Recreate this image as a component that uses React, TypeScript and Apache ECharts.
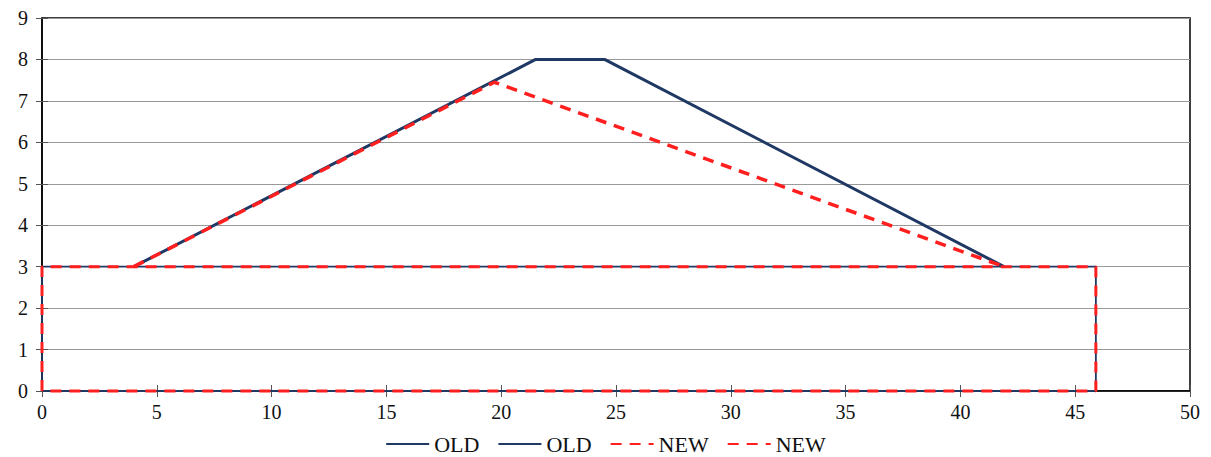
import React, { useEffect, useRef } from "react";
import * as echarts from "echarts";

const oldFoundation: [number, number][] = [[0, 0], [0, 3], [45.9, 3], [45.9, 0], [0, 0]];
const oldEmbankment: [number, number][] = [[4, 3], [21.5, 8], [24.5, 8], [41.9, 3]];
const newFoundation: [number, number][] = [[0, 0], [0, 3], [45.9, 3], [45.9, 0], [0, 0]];
const newEmbankment: [number, number][] = [[4, 3], [19.7, 7.45], [41.9, 3]];

const NAVY = "#1f3864";
const RED = "#ff1f1f";
const FONT = "Liberation Serif";

export default function App() {
  const ref = useRef<HTMLDivElement>(null);
  useEffect(() => {
    const chart = echarts.init(ref.current!, undefined, { renderer: "svg" });
    chart.setOption({
      animation: false,
      textStyle: { fontFamily: FONT },
      grid: {
        left: 34,
        right: 12,
        top: 10,
        bottom: 66,
        show: true,
        borderColor: "#000",
        borderWidth: 1.5,
        backgroundColor: "transparent",
      },
      legend: {
        top: 420,
        left: "center",
        padding: 5,
        itemWidth: 43,
        itemHeight: 14,
        itemGap: 18,
        textStyle: { fontFamily: FONT, fontSize: 22, color: "#111" },
        itemStyle: { color: "transparent", borderWidth: 0, opacity: 0 },
        formatter: (n: string) => n.replace(/\d/g, ""),
        data: ["OLD1", "OLD2", "NEW1", "NEW2"],
      },
      xAxis: [
        {
          type: "value",
          min: 0,
          max: 50,
          interval: 5,
          axisLine: { show: true, onZero: false, lineStyle: { color: "#000", width: 1.5 } },
          axisTick: { show: true, length: 6, lineStyle: { color: "#555" } },
          axisLabel: { fontFamily: FONT, fontSize: 20, color: "#111", margin: 11 },
          splitLine: { show: false },
        },
        {
          type: "value",
          min: 0,
          max: 50,
          interval: 5,
          position: "bottom",
          axisLine: { show: false, onZero: false },
          axisTick: { show: true, inside: true, length: 6, lineStyle: { color: "#555" } },
          axisLabel: { show: false },
          splitLine: { show: false },
        },
      ],
      yAxis: [
        {
          type: "value",
          min: 0,
          max: 9,
          interval: 1,
          axisLine: { show: true, onZero: false, lineStyle: { color: "#000", width: 1.5 } },
          axisTick: { show: true, length: 6, lineStyle: { color: "#555" } },
          axisLabel: { fontFamily: FONT, fontSize: 20, color: "#111", margin: 14 },
          splitLine: { show: true, lineStyle: { color: "#999", width: 1 } },
        },
        {
          type: "value",
          min: 0,
          max: 9,
          interval: 1,
          position: "left",
          axisLine: { show: false, onZero: false },
          axisTick: { show: true, inside: true, length: 6, lineStyle: { color: "#555" } },
          axisLabel: { show: false },
          splitLine: { show: false },
        },
      ],
      series: [
        {
          name: "OLD1",
          type: "line",
          data: oldFoundation,
          symbol: "none",
          clip: false,
          lineStyle: { color: NAVY, width: 1.8 },
          itemStyle: { color: NAVY },
        },
        {
          name: "OLD2",
          type: "line",
          data: oldEmbankment,
          symbol: "none",
          clip: false,
          lineStyle: { color: NAVY, width: 3 },
          itemStyle: { color: NAVY },
        },
        {
          name: "NEW1",
          type: "line",
          data: newFoundation,
          symbol: "none",
          clip: false,
          lineStyle: { color: RED, width: 3, type: [11, 8] },
          itemStyle: { color: RED },
        },
        {
          name: "NEW2",
          type: "line",
          data: newEmbankment,
          symbol: "none",
          clip: false,
          lineStyle: { color: RED, width: 3.5, type: [11, 8] },
          itemStyle: { color: RED },
        },
      ],
    });
    return () => chart.dispose();
  }, []);
  return <div ref={ref} style={{ width: 1195, height: 449 }} />;
}
